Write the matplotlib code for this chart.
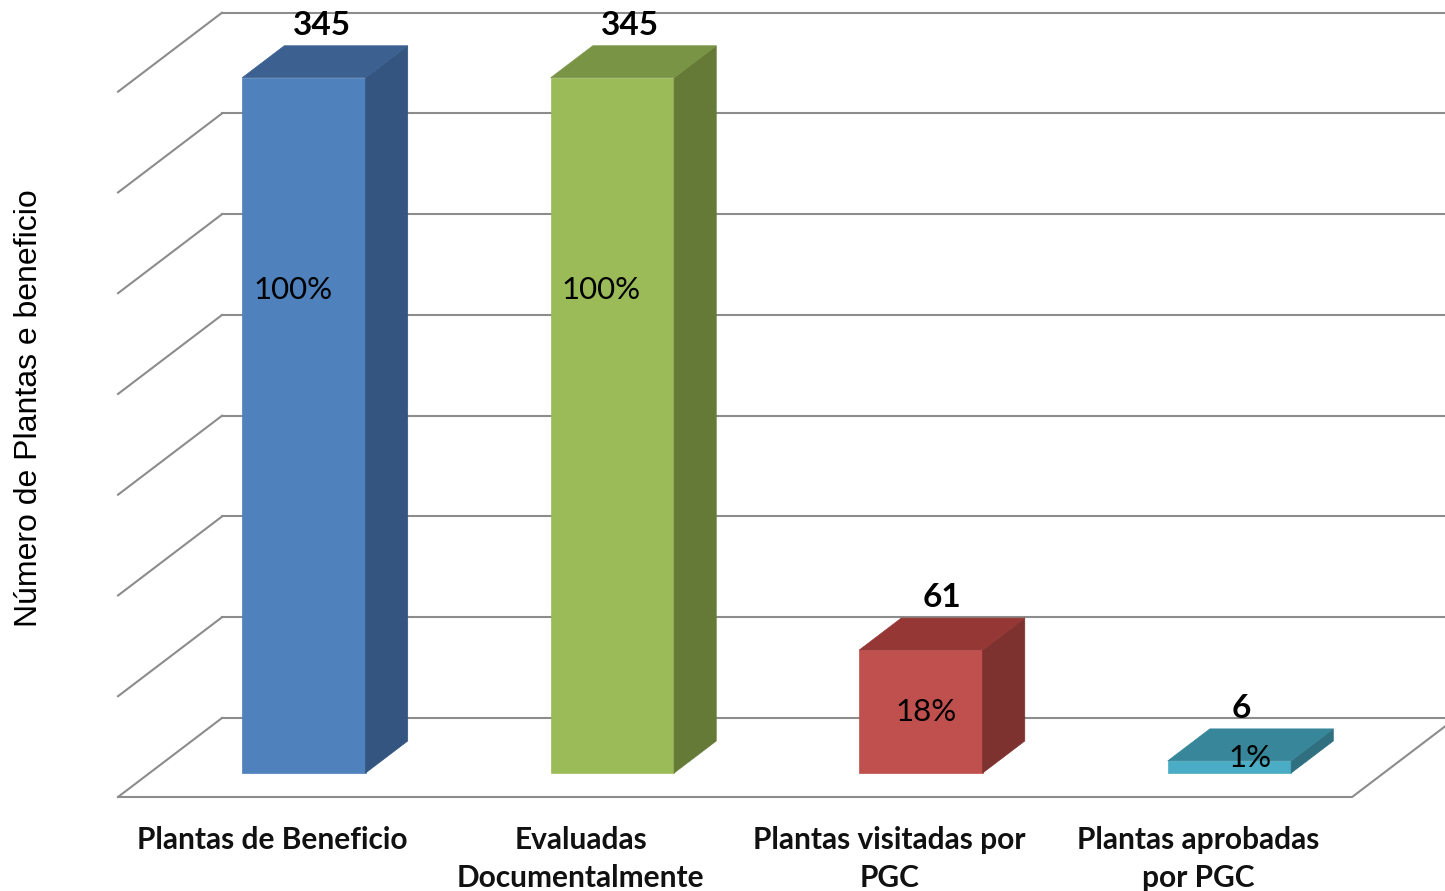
import matplotlib
matplotlib.use("Agg")
from matplotlib import pyplot as plt
from matplotlib.patches import Polygon

categorias = ["Plantas de Beneficio", "Evaluadas\nDocumentalmente",
              "Plantas visitadas por\nPGC", "Plantas aprobadas\npor PGC"]
valores = [345, 345, 61, 6]
porcentajes = ["100%", "100%", "18%", "1%"]

# front / side / top colours of each bar
c_frente = ['#4f81bd', '#9bbb59', '#c0504d', '#4bacc6']
c_lado = ['#33557f', '#657a37', '#7e322f', '#2f6f80']
c_techo = ['#3c6191', '#7a9446', '#953735', '#37869a']

# where the % labels sit: fraction of bar height and sideways nudge
pct_frac = [0.695, 0.695, 0.50, 1.25]
pct_dx = [-0.036, -0.036, 0.018, 0.066]
# sideways nudge of the value labels
val_dx = [-0.01, -0.01, 0.0, -0.03]

grid_vals = range(0, 351, 50)

# fake 3D: depth moves points right and up
DX = 0.337
DY = 39.2
d0, d1 = 0.304, 0.709
ancho = 0.4


def proj(x, v, d):
    return x + d * DX, v + d * DY


fig = plt.figure(figsize=(14.45, 8.91), dpi=100)
ax = fig.add_axes([0, 0, 1, 1])
ax.set_xlim(-0.8825, 3.801)
ax.set_ylim(-46.65, 395.5)
ax.axis('off')

gris = '#8c8c8c'
n = len(categorias)
for g in grid_vals:
    x0, y0 = proj(-0.5, g, 0)
    x1, y1 = proj(-0.5, g, 1)
    ax.plot([x0, x1], [y0, y1], color=gris, lw=1.5, zorder=1)
    xe, _ = proj(n - 0.5, g, 1)
    ax.plot([x1, xe], [y1, y1], color=gris, lw=1.5, zorder=1)

# floor
fx0, fy0 = proj(-0.5, 0, 0)
fx1, fy1 = proj(n - 0.5, 0, 0)
fx2, fy2 = proj(n - 0.5, 0, 1)
ax.plot([fx0, fx1, fx2], [fy0, fy1, fy2], color=gris, lw=1.5, zorder=1)

for i, v in enumerate(valores):
    xl = i - ancho / 2
    xr = i + ancho / 2
    frente = [proj(xl, 0, d0), proj(xr, 0, d0), proj(xr, v, d0), proj(xl, v, d0)]
    lado = [proj(xr, 0, d0), proj(xr, 0, d1), proj(xr, v, d1), proj(xr, v, d0)]
    techo = [proj(xl, v, d0), proj(xr, v, d0), proj(xr, v, d1), proj(xl, v, d1)]
    ax.add_patch(Polygon(frente, closed=True, fc=c_frente[i], ec=c_frente[i], lw=0.5, zorder=3))
    ax.add_patch(Polygon(lado, closed=True, fc=c_lado[i], ec=c_lado[i], lw=0.5, zorder=3))
    ax.add_patch(Polygon(techo, closed=True, fc=c_techo[i], ec=c_techo[i], lw=0.5, zorder=3))

    # value on top
    tx, _ = proj(i + val_dx[i], v, (d0 + d1) / 2)
    _, ty = proj(i, v, d1)
    ax.text(tx, ty + 10, str(v), ha='center', va='center',
            fontsize=24, fontweight='bold', family='Lato', zorder=5)

    # percentage on the front
    px, py = proj(i + pct_dx[i], v * pct_frac[i], d0)
    ax.text(px, py, porcentajes[i], ha='center', va='center',
            fontsize=22.5, family='Lato', zorder=5)

    # category name under the floor
    ax.text(i, -14.5, categorias[i], ha='center', va='top', fontsize=21.5,
            fontweight='bold', family='Lato', linespacing=1.42, color='#111111')

fig.text(0.020, 0.542, "Número de Plantas e beneficio", rotation=90,
         ha='center', va='center', fontsize=23, family='Liberation Sans')

fig.savefig("out.png", dpi=100, facecolor='white')
